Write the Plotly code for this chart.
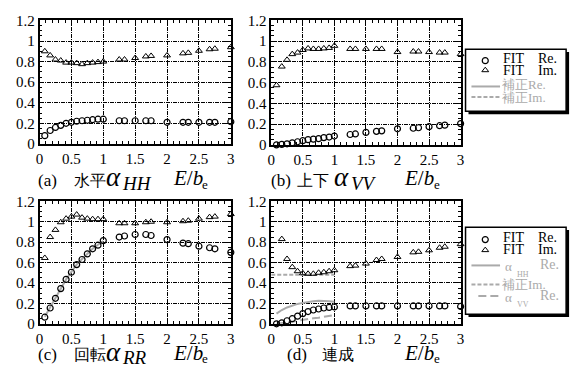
import plotly.graph_objects as go

W, H = 579, 372

# ---------------- data ----------------
E_B = [0.083, 0.167, 0.25, 0.333, 0.417, 0.5, 0.583, 0.667, 0.75, 0.833, 0.917, 1.0,
       1.25, 1.333, 1.5, 1.667, 1.75, 2.0, 2.25, 2.333, 2.5, 2.667, 2.75, 3.0]
E_B_LINE = [0.083, 0.167, 0.25, 0.333, 0.417, 0.5, 0.583, 0.667, 0.75, 0.833, 0.917, 1.0]
E_B_FLAT = [0.0, 1.0]

a_re = [0.08, 0.13, 0.16, 0.18, 0.20, 0.21, 0.22, 0.225, 0.23, 0.235, 0.24, 0.24,
        0.225, 0.225, 0.225, 0.225, 0.225, 0.21, 0.21, 0.21, 0.21, 0.21, 0.21, 0.215]
a_im = [0.90, 0.86, 0.82, 0.81, 0.79, 0.79, 0.785, 0.775, 0.785, 0.79, 0.795, 0.80,
        0.82, 0.82, 0.835, 0.85, 0.855, 0.86, 0.88, 0.885, 0.905, 0.92, 0.925, 0.94]

b_re = [0.0, 0.005, 0.01, 0.02, 0.03, 0.04, 0.05, 0.055, 0.06, 0.07, 0.075, 0.085,
        0.10, 0.105, 0.12, 0.13, 0.135, 0.155, 0.16, 0.165, 0.175, 0.185, 0.19, 0.205]
b_im = [0.575, 0.755, 0.82, 0.875, 0.89, 0.915, 0.93, 0.925, 0.925, 0.93, 0.935, 0.955,
        0.925, 0.925, 0.925, 0.925, 0.925, 0.895, 0.90, 0.90, 0.895, 0.89, 0.89, 0.875]

c_re = [0.065, 0.155, 0.25, 0.345, 0.435, 0.505, 0.58, 0.63, 0.685, 0.735, 0.77, 0.815,
        0.85, 0.86, 0.875, 0.875, 0.865, 0.825, 0.79, 0.785, 0.76, 0.745, 0.735, 0.70]
c_im = [0.645, 0.85, 0.92, 0.995, 1.03, 1.05, 1.07, 1.04, 1.03, 1.025, 1.025, 1.025,
        0.985, 0.985, 0.985, 0.995, 1.0, 0.995, 1.005, 1.01, 1.03, 1.045, 1.05, 1.075]
c_fix_re = [0.07, 0.16, 0.255, 0.35, 0.435, 0.51, 0.58, 0.635, 0.69, 0.735, 0.775, 0.81]

d_re = [0.0, 0.01, 0.03, 0.05, 0.075, 0.10, 0.12, 0.135, 0.145, 0.155, 0.16, 0.165,
        0.175, 0.175, 0.175, 0.175, 0.175, 0.175, 0.175, 0.175, 0.175, 0.175, 0.175, 0.17]
d_im = [None, 0.83, 0.635, 0.555, 0.515, 0.495, 0.49, 0.49, 0.50, 0.505, 0.515, 0.525,
        0.565, 0.57, 0.59, 0.625, 0.635, 0.655, 0.70, 0.705, 0.72, 0.745, 0.755, 0.78]
d_hh_re = [0.10, 0.135, 0.16, 0.18, 0.195, 0.205, 0.215, 0.22, 0.225, 0.225, 0.22, 0.215]
d_fix_im = [0.48, 0.48]
d_vv_re = [0.0, 0.005, 0.01, 0.02, 0.03, 0.04, 0.05, 0.055, 0.06, 0.07, 0.075, 0.085]

X_TICKS = [0, 0.5, 1, 1.5, 2, 2.5, 3]
Y_TICKS = [0, 0.2, 0.4, 0.6, 0.8, 1, 1.2]

# ---------------- styling ----------------
SERIF = "Liberation Serif"
GREY = "#aaaaaa"

CIRCLE = dict(symbol="circle-open", size=6, color="black", line=dict(width=1.2, color="black"))
TRIANGLE = dict(symbol="triangle-up-open", size=6, color="black", line=dict(width=1, color="black"))

# pixel boxes: (left, right, top, bottom)
boxes = {
    1: (36, 230, 13, 142),
    2: (271, 463, 13, 143),
    3: (36, 230, 202, 330),
    4: (271, 463, 202, 330),
}

def ax(n):
    return ("x" + ("" if n == 1 else str(n)), "y" + ("" if n == 1 else str(n)))

fig = go.Figure()

def markers(x, y, n, style, name):
    xa, ya = ax(n)
    fig.add_trace(go.Scatter(x=x, y=y, mode="markers", name=name, marker=style,
                             xaxis=xa, yaxis=ya, showlegend=False, cliponaxis=False))

def line(x, y, n, dash, name):
    xa, ya = ax(n)
    fig.add_trace(go.Scatter(x=x, y=y, mode="lines", name=name,
                             line=dict(color=GREY, width=2, dash=dash),
                             xaxis=xa, yaxis=ya, showlegend=False))

markers(E_B, a_re, 1, CIRCLE, "FIT Re.")
markers(E_B, a_im, 1, TRIANGLE, "FIT Im.")
markers(E_B, b_re, 2, CIRCLE, "FIT Re.")
markers(E_B, b_im, 2, TRIANGLE, "FIT Im.")
line(E_B_LINE, c_fix_re, 3, "solid", "補正Re.")
markers(E_B, c_re, 3, CIRCLE, "FIT Re.")
markers(E_B, c_im, 3, TRIANGLE, "FIT Im.")
line(E_B_LINE, d_hh_re, 4, "solid", "αHH Re.")
line(E_B_FLAT, d_fix_im, 4, "4px,2px", "補正Im.")
line(E_B_LINE, d_vv_re, 4, "8px,4px", "αVV Re.")
markers(E_B, d_re, 4, CIRCLE, "FIT Re.")
markers(E_B, d_im, 4, TRIANGLE, "FIT Im.")

axis_common = dict(
    showline=True, linecolor="black", linewidth=1.5, mirror="allticks",
    ticks="inside", ticklen=5, tickwidth=1, tickcolor="black",
    showgrid=True, gridcolor="black", gridwidth=1, griddash="4px,1px,1px,1px",
    zeroline=False, tickfont=dict(family=SERIF, size=15, color="black"),
)

layout = dict(
    width=W, height=H, margin=dict(l=0, r=0, t=0, b=0),
    paper_bgcolor="white", plot_bgcolor="rgba(0,0,0,0)",
    font=dict(family=SERIF, color="black"), showlegend=False,
)

for n, (l, r, t, b) in boxes.items():
    sx = "" if n == 1 else str(n)
    layout["xaxis" + sx] = dict(axis_common, domain=[l / W, r / W], range=[0, 3],
                                tickvals=X_TICKS, anchor="y" + sx,
                                minor=dict(dtick=0.1, tick0=0, ticks="inside", ticklen=3,
                                           tickcolor="black", showgrid=False))
    layout["yaxis" + sx] = dict(axis_common, domain=[1 - b / H, 1 - t / H], range=[0, 1.2],
                                tickvals=Y_TICKS, anchor="x" + sx,
                                minor=dict(dtick=0.05, tick0=0, ticks="inside", ticklen=3,
                                           tickcolor="black", showgrid=False))

# hidden pixel-space axis for legend symbols
layout["xaxis5"] = dict(domain=[0, 1], range=[0, W], visible=False, anchor="y5", fixedrange=True)
layout["yaxis5"] = dict(domain=[0, 1], range=[H, 0], visible=False, anchor="x5", fixedrange=True)

fig.update_layout(**layout)

def px(x):
    return x / W

def py(y):
    return 1 - y / H

def text(x, y, t, size, color="black", anchor="left", family=SERIF):
    fig.add_annotation(x=px(x), y=py(y), xref="paper", yref="paper", text=t,
                       showarrow=False, xanchor=anchor, yanchor="middle", borderpad=0,
                       font=dict(family=family, size=size, color=color))

# ---------------- legends ----------------
def legend_box(x0, x1, y0, y1):
    fig.add_shape(type="rect", xref="paper", yref="paper",
                  x0=px(x0 + 3), x1=px(x1 + 3), y0=py(y1 + 3), y1=py(y0 + 3),
                  fillcolor="black", line=dict(width=0), layer="below")
    fig.add_shape(type="rect", xref="paper", yref="paper",
                  x0=px(x0), x1=px(x1), y0=py(y1), y1=py(y0),
                  fillcolor="white", line=dict(width=1.5, color="black"), layer="below")

def legend_line(x0, x1, y, dash):
    fig.add_shape(type="line", xref="paper", yref="paper",
                  x0=px(x0), x1=px(x1), y0=py(y), y1=py(y),
                  line=dict(color=GREY, width=2, dash=dash), layer="below")

def legend_marker(x, y, style):
    fig.add_trace(go.Scatter(x=[x], y=[y], mode="markers", marker=style,
                             xaxis="x5", yaxis="y5", showlegend=False,
                             cliponaxis=False, hoverinfo="skip"))

# legend 1
legend_box(468, 570, 43, 108)
legend_marker(488, 55, CIRCLE)
legend_marker(488, 65, TRIANGLE)
text(505, 53, "FIT", 14)
text(540, 53, "Re.", 14)
text(505, 65, "FIT", 14)
text(540, 65, "Im.", 14)
legend_line(474, 503, 82, "solid")
text(504, 80, "補正Re.", 13, GREY)
legend_line(474, 503, 93, "4px,2px")
text(504, 94, "補正Im.", 13, GREY)

# legend 2
legend_box(468, 570, 229, 320)
legend_marker(488, 242, CIRCLE)
legend_marker(488, 253, TRIANGLE)
text(505, 240, "FIT", 14)
text(540, 240, "Re.", 14)
text(505, 252, "FIT", 14)
text(540, 252, "Im.", 14)
legend_line(474, 503, 269, "solid")
text(507, 270, "α", 13, GREY)
text(519, 278, "HH", 8, GREY)
text(543, 268, "Re.", 14, GREY)
legend_line(474, 503, 289, "4px,2px")
text(504, 289, "補正Im.", 13, GREY)
legend_line(481, 503, 301, "8px,4px")
text(507, 302, "α", 13, GREY)
text(519, 310, "VV", 8, GREY)
text(543, 300, "Re.", 14, GREY)

# ---------------- captions ----------------
def caption(x0, yc, label, cjk_x, cjk, sym_x=None, sub=None, eb_x=None):
    text(x0, yc, label, 17)
    text(cjk_x, yc, cjk, 16)
    if sym_x is not None:
        text(sym_x, yc - 3, "<i>α</i>", 27)
        text(sym_x + 17, yc + 3, "<i>" + sub + "</i>", 19)
    text(eb_x, yc - 2, "<i>E</i>/<i>b</i>", 21)
    text(eb_x + 30, yc + 4, "e", 13)

caption(33, 180, "(a)", 70, "水平", 102, "HH", 170)
caption(270, 180, "(b)", 296, "上下", 334, "VV", 405)
caption(33, 362, "(c)", 70, "回転", 102, "RR", 170)
caption(286, 362, "(d)", 321, "連成", None, None, 405)

fig.write_html("out.html")
